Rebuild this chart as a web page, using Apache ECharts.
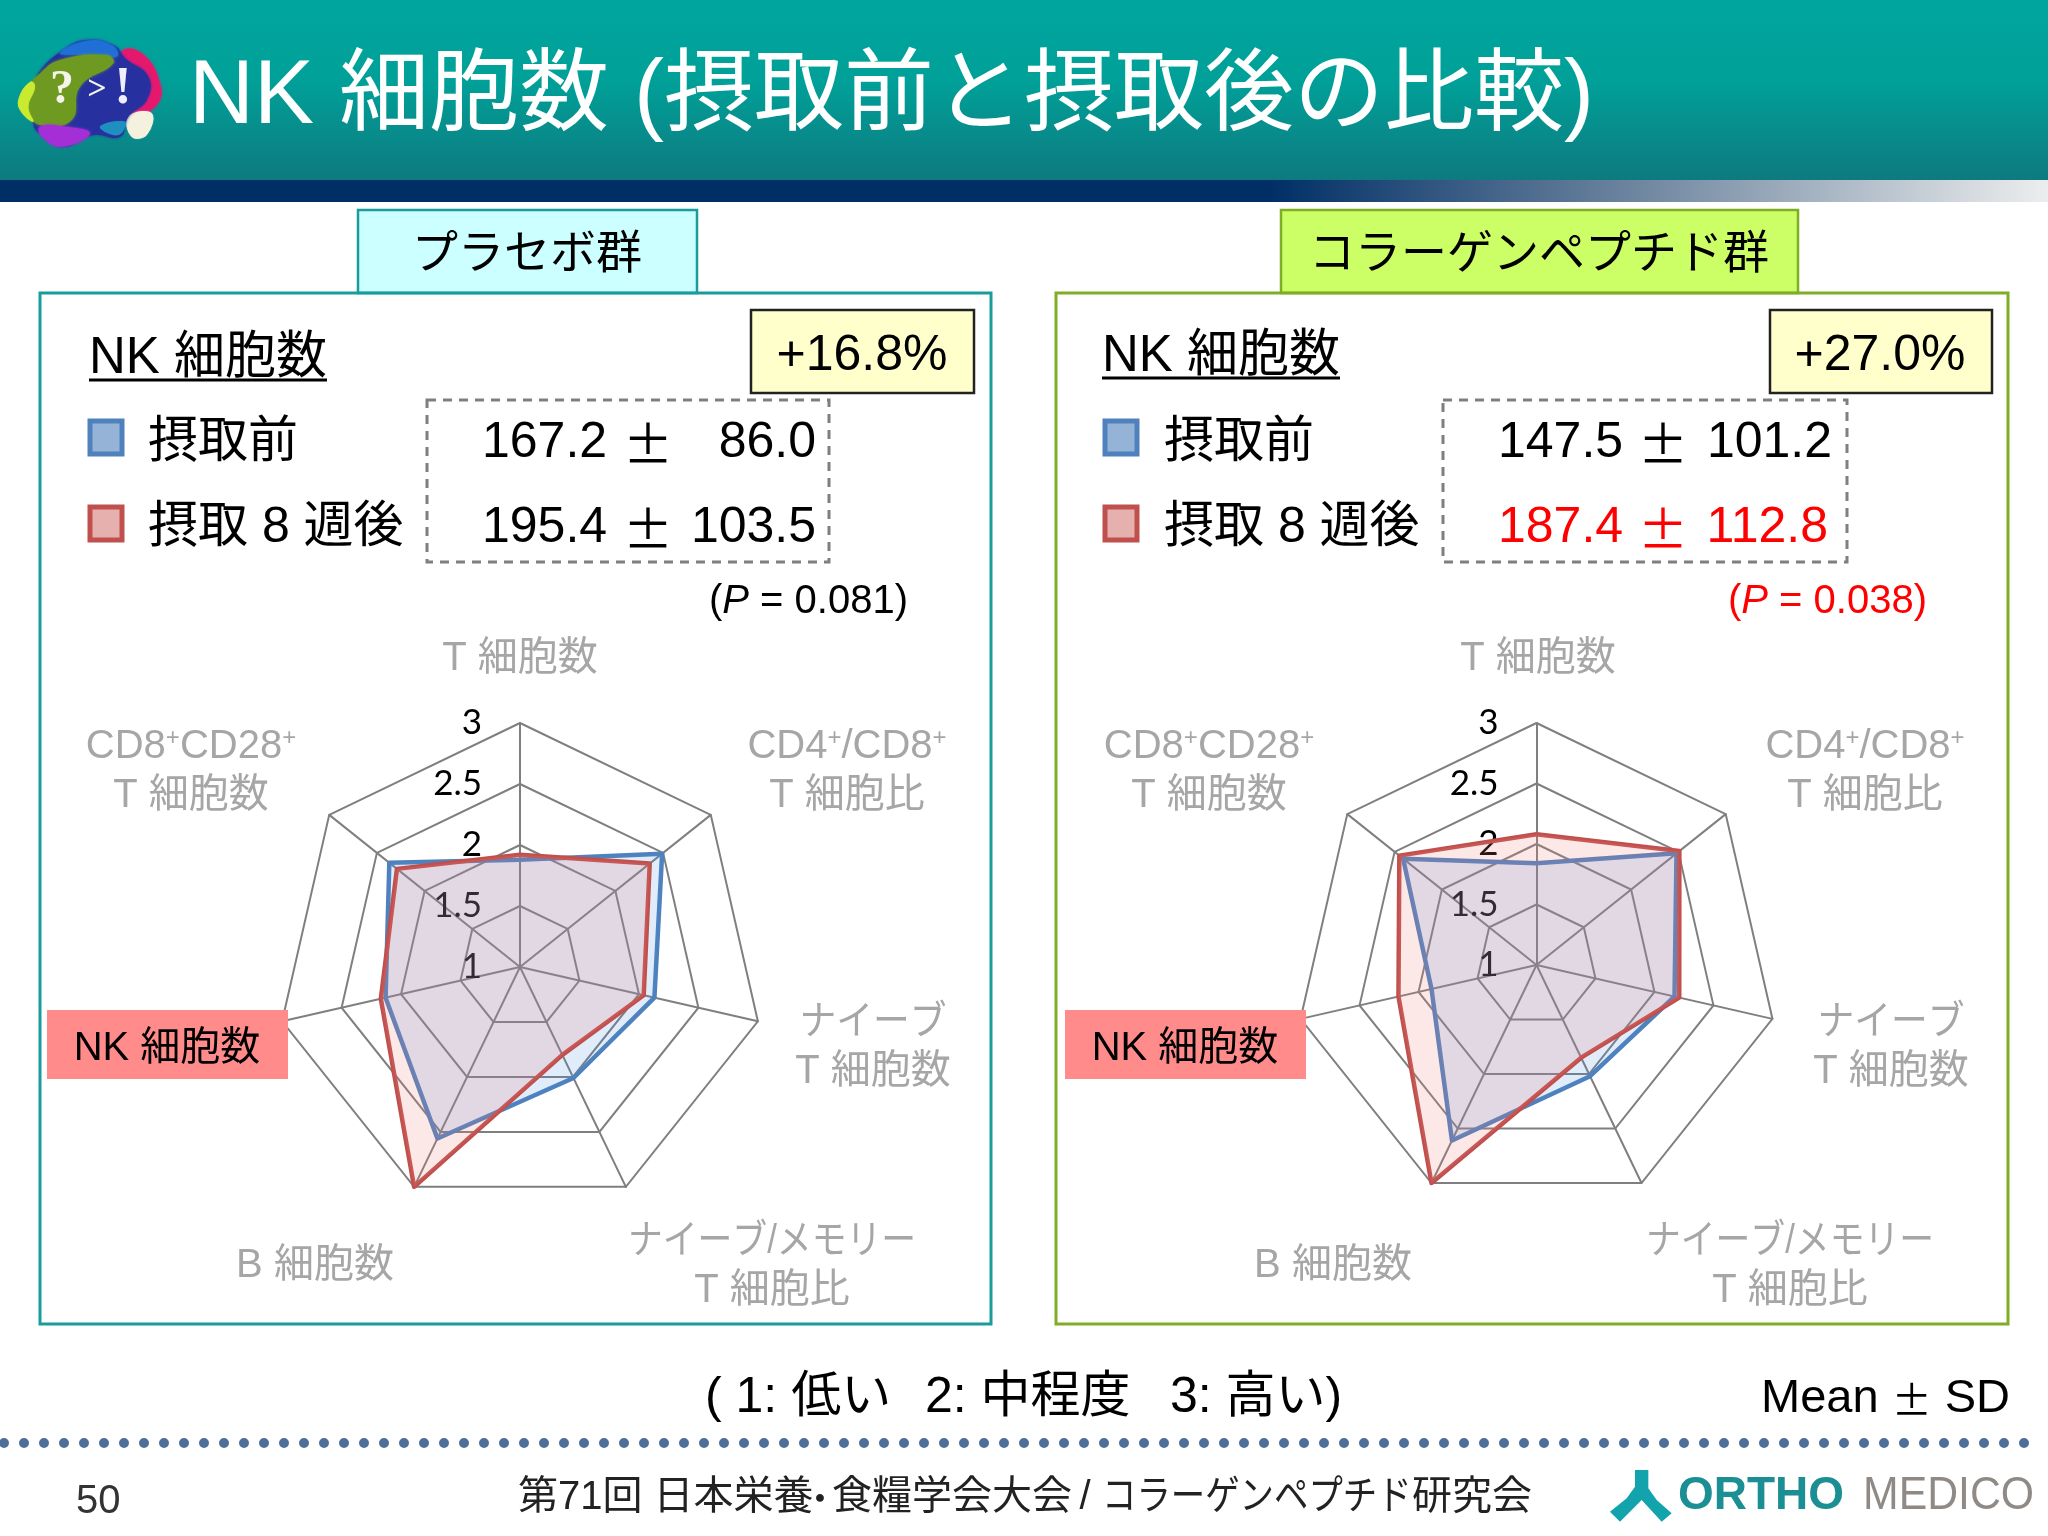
<!DOCTYPE html>
<html>
<head>
<meta charset="utf-8">
<style>html,body{margin:0;padding:0;background:#fff}#c{width:2048px;height:1536px}</style>
<script src="https://cdn.jsdelivr.net/npm/echarts@6/dist/echarts.min.js"></script>
</head>
<body>
<div id="c"></div>
<script>
// Clockwise from the top axis
const categories = ['T 細胞数', 'CD4+/CD8+ T 細胞比', 'ナイーブ T 細胞数', 'ナイーブ/メモリー T 細胞比', 'B 細胞数', 'NK 細胞数', 'CD8+CD28+ T 細胞数'];
const tickMin = 1;
const tickMax = 3;
const placeboBefore = [1.88, 2.49, 2.13, 2.01, 2.56, 2.13, 2.37];
const placeboAfter  = [1.92, 2.36, 2.04, 1.80, 3.00, 2.17, 2.29];
const collagenBefore = [1.84, 2.48, 2.17, 2.02, 2.61, 1.89, 2.41];
const collagenAfter  = [2.08, 2.51, 2.21, 1.85, 3.00, 2.17, 2.45];
const titleText = 'NK 細胞数 (摂取前と摂取後の比較)';
const groupNames = ['プラセボ群', 'コラーゲンペプチド群'];
const changes = ['+16.8%', '+27.0%'];
const beforeStats = [['167.2', '86.0'], ['147.5', '101.2']];
const afterStats = [['195.4', '103.5'], ['187.4', '112.8']];
const pValues = ['0.081', '0.038'];

const FONT = '"Liberation Sans","Noto Sans CJK JP",sans-serif';
const CJK = '"Noto Sans CJK JP",sans-serif';
const GRAY = '#a6a6a6';
const TY = 3.5;
const ccw = a => [a[0]].concat(a.slice(1).reverse());

function txt(x, y, text, size, color, align, extra, sx) {
  const o = {type:'text', z:20, x:x, y:y+TY, style:Object.assign({text:text, fontFamily:FONT, fontSize:size, fill:color||'#000', align:align||'left', verticalAlign:'middle'}, extra||{})};
  if (sx) o.scaleX = sx;
  return o;
}
function rect(x0,y0,x1,y1,fill,stroke,lw,dash,z){
  return {type:'rect', z:z||15, shape:{x:x0,y:y0,width:x1-x0,height:y1-y0}, style:{fill:fill||'none', stroke:stroke||'none', lineWidth:lw||0, lineDash:dash||null}};
}
// Decorative logo pieces, given in crop coordinates of the emblem
function zp(pts){ return pts.map(p=>[p[0]/3, p[1]/3+20]); }
function poly(pts,color,blur){
  return {type:'polygon', z:12, shape:{points:zp(pts), smooth:0.45}, style:{fill:color, shadowBlur:blur==null?3:blur, shadowColor:color}};
}
const supRich = {sup:{fontFamily:FONT,fontSize:24,fill:GRAY,verticalAlign:'top',padding:[0,0,12,0]}};

const g = [];
// header
g.push({type:'rect', z:10, shape:{x:0,y:0,width:2048,height:180}, style:{fill:new echarts.graphic.LinearGradient(0,0,0,1,[{offset:0,color:'#00a69e'},{offset:0.45,color:'#00a098'},{offset:1,color:'#0e7a80'}])}});
g.push({type:'rect', z:10, shape:{x:0,y:180,width:2048,height:22}, style:{fill:new echarts.graphic.LinearGradient(0,0,1,0,[{offset:0,color:'#002f66'},{offset:0.62,color:'#002f66'},{offset:0.8,color:'#6f86a0'},{offset:1,color:'#eceeee'}])}});
// emblem
g.push(poly([[365,95],[425,100],[480,190],[470,255],[395,285],[360,200]],'#e5186e'));
g.push(poly([[385,290],[455,280],[440,345],[395,350]],'#f4f1de',1));
g.push(poly([[115,160],[190,90],[260,60],[345,78],[375,115],[445,170],[440,240],[385,290],[360,350],[280,345],[190,380],[125,345],[100,310],[110,200]],'#26309f'));
g.push(poly([[180,100],[260,62],[340,78],[350,110],[250,105]],'#1f6fd6'));
g.push(poly([[115,165],[180,120],[320,105],[340,130],[240,200],[215,300],[120,315],[85,270],[90,200]],'#6f9a22'));
g.push(poly([[92,185],[105,200],[85,260],[100,305],[60,270],[58,230]],'#c9ea2e',1));
g.push(poly([[120,320],[200,320],[270,340],[190,380],[130,355]],'#a42fd6'));
g.push(poly([[300,320],[375,305],[355,345]],'#1f8fc0',1));
g.push(txt(62,87,'?',48,'#f4f4e8','center',{fontFamily:'"Liberation Serif",serif',fontWeight:'bold'}));
g.push(txt(97,87,'>',34,'#f4f4e8','center',{fontFamily:'"Liberation Serif",serif',fontWeight:'bold'}));
g.push(txt(123,86,'!',52,'#eeeeff','center',{fontFamily:'"Liberation Serif",serif',fontWeight:'bold'}));
g.push(txt(189,95,titleText,90,'#fff','left'));

const panels = [
 {box:[40,991], boxC:'#1a9c9c', tab:[358,697], tabF:'#ccffff', tabCx:527, lx:89, tY:355, ulY:380, ulX:[89,327], sqX:[88,124], lblX:148, dash:[427,829], yb:[751,974], ybCx:862, valX:482, pmX:648, sdX:816, sdX2:816, pX:709, after:'#000', pC:'#000'},
 {box:[1056,2008], boxC:'#7fae26', tab:[1281,1798], tabF:'#ccff66', tabCx:1539, lx:1102, tY:353, ulY:378, ulX:[1102,1340], sqX:[1103,1139], lblX:1164, dash:[1443,1847], yb:[1770,1992], ybCx:1880, valX:1498, pmX:1663, sdX:1832, sdX2:1828, pX:1728, after:'#ff0000', pC:'#ff0000'}
];
panels.forEach((p,i)=>{
  g.push(rect(p.tab[0],210,p.tab[1],293,p.tabF,p.boxC,2.5));
  g.push(rect(p.box[0],293,p.box[1],1324,'none',p.boxC,3));
  g.push(txt(p.tabCx,252,groupNames[i],46,'#000','center'));
  g.push(txt(p.lx,p.tY,'NK 細胞数',51));
  g.push({type:'line',z:20,shape:{x1:p.ulX[0],y1:p.ulY,x2:p.ulX[1],y2:p.ulY},style:{stroke:'#000',lineWidth:3}});
  g.push(rect(p.yb[0],310,p.yb[1],393,'#ffffcc','#222',2.5));
  g.push(txt(p.ybCx,353,changes[i],50,'#000','center'));
  g.push(rect(p.dash[0],400,p.dash[1],562,'none','#7f7f7f',3,[9,7]));
  g.push(rect(p.sqX[0]+2,421,p.sqX[1]-2,454,'#95b3d7','#4f81bd',5));
  g.push(rect(p.sqX[0]+2,507,p.sqX[1]-2,540,'#e6b0ae','#c0504d',5));
  g.push(txt(p.lblX,440,'摂取前',50));
  g.push(txt(p.lblX,525,'摂取 8 週後',50));
  g.push(txt(p.valX,440,beforeStats[i][0],50));
  g.push(txt(p.pmX,440,'±',50,'#000','center',{fontFamily:CJK}));
  g.push(txt(p.sdX,440,beforeStats[i][1],50,'#000','right'));
  g.push(txt(p.valX,525,afterStats[i][0],50,p.after));
  g.push(txt(p.pmX,525,'±',50,p.after,'center',{fontFamily:CJK}));
  g.push(txt(p.sdX2,525,afterStats[i][1],50,p.after,'right'));
  g.push(txt(p.pX,598,'({i|P} = '+pValues[i]+')',40,p.pC,'left',{rich:{i:{fontFamily:FONT,fontStyle:'italic',fontSize:40,fill:p.pC}}}));
  // axis names
  const ox = i ? 1018 : 0;
  g.push(txt(520+ox,655,categories[0],40,GRAY,'center'));
  g.push(txt(191+ox,743,'CD8{sup|+}CD28{sup|+}',40,GRAY,'center',{rich:supRich}));
  g.push(txt(191+ox,792,'T 細胞数',40,GRAY,'center'));
  g.push(txt(847+ox,743,'CD4{sup|+}/CD8{sup|+}',40,GRAY,'center',{rich:supRich}));
  g.push(txt(847+ox,792,'T 細胞比',40,GRAY,'center'));
  g.push(txt(873+ox,1019,'ナイーブ',40,GRAY,'center',null,0.92));
  g.push(txt(873+ox,1068,'T 細胞数',40,GRAY,'center'));
  g.push(txt(772+ox,1238,'ナイーブ/メモリー',40,GRAY,'center',null,0.87));
  g.push(txt(772+ox,1287,'T 細胞比',40,GRAY,'center'));
  g.push(txt(315+ox,1262,categories[4],40,GRAY,'center'));
  g.push(rect(47+ox,1010,288+ox,1079,'#ff8b8b','none',0,null,16));
  g.push(txt(167+ox,1045,categories[5],40,'#000','center'));
});
// footer
g.push(txt(705,1395,'( 1: 低い',50));
g.push(txt(925,1395,'2: 中程度',50));
g.push(txt(1170,1395,'3: 高い)',50));
g.push(txt(2010,1396,'Mean {pm|±} SD',47,'#000','right',{rich:{pm:{fontFamily:CJK,fontSize:40,fill:'#000'}}}));
g.push({type:'line',z:20,shape:{x1:4,y1:1443,x2:2040,y2:1443},style:{stroke:'#4d6f9a',lineWidth:10,lineCap:'round',lineDash:[0,20]}});
g.push(txt(76,1498,'50',40,'#333'));
g.push(txt(518,1494,'第71回 日本栄養',40,'#222'));
g.push(txt(820,1494,'･',40,'#222','center',{fontWeight:'bold',fontFamily:CJK}));
g.push(txt(832,1494,'食糧学会大会',40,'#222'));
g.push(txt(1085,1494,'/',40,'#222','center'));
g.push(txt(1102,1494,'コラーゲンペプチド',40,'#222','left',null,0.86));
g.push(txt(1532,1494,'研究会',40,'#222','right'));
// company mark
const lg = (x,y)=>[1590+x/3,1450+y/3];
g.push({type:'polygon',z:20,shape:{points:[lg(135,60),lg(175,60),lg(175,115),lg(200,150),lg(245,190),lg(215,215),lg(155,150),lg(90,215),lg(60,185),lg(110,145),lg(135,110)]},style:{fill:'#12a3ad'}});
g.push(txt(1678,1493,'ORTHO',46,'#1c8f94','left',{fontWeight:'bold'}));
g.push(txt(1863,1493,'MEDICO',46,'#8f8a85','left',null,0.93));

const line = {lineStyle:{color:'#7f7f7f',width:2}};
const tickLabel = {fontFamily:'Lato,sans-serif',fontSize:35,color:'#000',margin:38,padding:[5,0,0,0]};
function radar(center,r){
  return {
    center:center, radius:r, startAngle:90, shape:'polygon', splitNumber:4, scale:false,
    indicator: ccw(categories).map((n,k)=>({name:n, min:tickMin, max:tickMax, axisLabel:Object.assign({show:k===0},tickLabel)})),
    axisName:{show:false},
    axisLine:Object.assign({show:true},line),
    axisTick:{show:false},
    axisLabel:Object.assign({show:false},tickLabel),
    splitLine:Object.assign({show:true},line),
    splitArea:{show:false}
  };
}
function series(idx,before,after){
  const blue={name:'摂取前',value:ccw(before),symbol:'none',lineStyle:{color:'#4f81bd',width:4.5},areaStyle:{color:'#468ce1',opacity:.17},itemStyle:{color:'#4f81bd'}};
  const red={name:'摂取 8 週後',value:ccw(after),symbol:'none',lineStyle:{color:'#c0504d',width:4.5},areaStyle:{color:'#f08278',opacity:.18},itemStyle:{color:'#c0504d'}};
  return {type:'radar',radarIndex:idx,silent:true,data:[blue,red]};
}
const chart = echarts.init(document.getElementById('c'),null,{renderer:'canvas'});
chart.setOption({
  animation:false,
  backgroundColor:'#fff',
  radar:[radar([520,967],244),radar([1536.5,965],242)],
  series:[series(0,placeboBefore,placeboAfter),series(1,collagenBefore,collagenAfter)],
  graphic:{elements:g}
});
</script>
</body>
</html>
